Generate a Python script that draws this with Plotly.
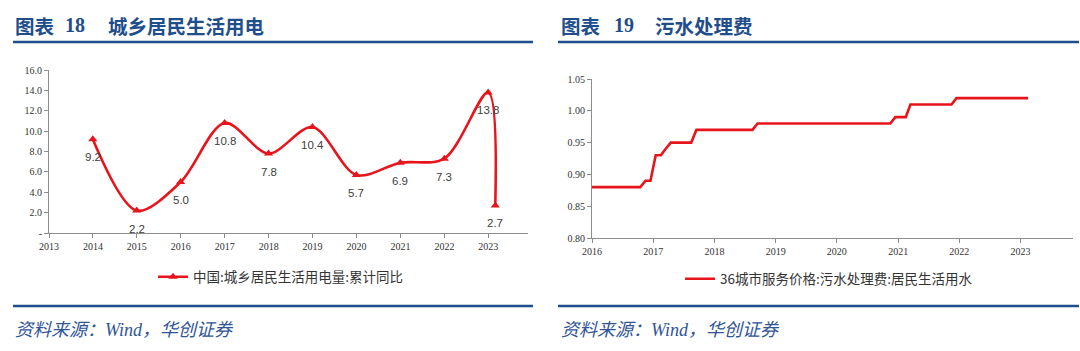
import plotly.graph_objects as go

# ---- Data: left chart (城乡居民生活用电量 累计同比, %) ----
elec_dates = ["2013-12-31", "2014-12-31", "2015-12-31", "2016-12-31", "2017-12-31",
              "2018-12-31", "2019-12-31", "2020-12-31", "2021-12-31", "2022-12-31", "2023-02-28"]
elec_values = [9.2, 2.2, 5.0, 10.8, 7.8, 10.4, 5.7, 6.9, 7.3, 13.8, 2.7]
elec_labels = ["9.2", "2.2", "5.0", "10.8", "7.8", "10.4", "5.7", "6.9", "7.3", "13.8", "2.7"]
elec_yticks = [0, 2, 4, 6, 8, 10, 12, 14, 16]
elec_yticklabels = ["-", "2.0", "4.0", "6.0", "8.0", "10.0", "12.0", "14.0", "16.0"]
elec_xticks = ["2013", "2014", "2015", "2016", "2017", "2018", "2019", "2020", "2021", "2022", "2023"]

# ---- Data: right chart (污水处理费 居民生活用水) ----
water_dates = ["2016-01-01", "2016-10-15", "2016-11-15", "2016-12-15", "2017-01-15", "2017-02-15",
               "2017-03-15", "2017-04-15", "2017-08-15", "2017-09-15", "2018-08-15", "2018-09-15",
               "2020-11-15", "2020-12-15", "2021-02-15", "2021-03-15", "2021-11-15", "2021-12-15",
               "2023-02-15"]
water_values = [0.88, 0.88, 0.89, 0.89, 0.93, 0.93, 0.94, 0.95, 0.95, 0.97, 0.97, 0.98,
                0.98, 0.99, 0.99, 1.01, 1.01, 1.02, 1.02]
water_yticks = [0.80, 0.85, 0.90, 0.95, 1.00, 1.05]
water_xticks = ["2016", "2017", "2018", "2019", "2020", "2021", "2022", "2023"]

# ---- Text ----
titles = [("图表", "18", "城乡居民生活用电"), ("图表", "19", "污水处理费")]
source_text = "资料来源：<span style='font-family:Liberation Serif'>Wind</span>，华创证券"

W, H = 1080, 351
RED = "#e8141b"
BLUE = "#1f4e8c"
AXIS = "#8c8c8c"
CJK = "Noto Sans CJK SC"
SERIF = "Liberation Serif, serif"


def px_x(x):
    return x / W


def px_y(y):
    return 1 - y / H


fig = go.Figure()

fig.add_trace(go.Scatter(
    x=elec_dates, y=elec_values, mode="lines+markers",
    line=dict(color=RED, width=2.6, shape="spline", smoothing=0.9),
    marker=dict(symbol="triangle-up", size=8, color=RED),
    name="中国:城乡居民生活用电量:累计同比", xaxis="x", yaxis="y", legend="legend",
))
fig.add_trace(go.Scatter(
    x=water_dates, y=water_values, mode="lines",
    line=dict(color=RED, width=2.6),
    name="36城市服务价格:污水处理费:居民生活用水", xaxis="x2", yaxis="y2", legend="legend2",
))

# data labels below the points
for d, v, lab in zip(elec_dates, elec_values, elec_labels):
    fig.add_annotation(
        x=d, y=v, xref="x", yref="y", text=lab, showarrow=False, yshift=-18,
        font=dict(family="Liberation Sans", size=11.5, color="#404040"),
    )

axis_common = dict(
    showgrid=False, zeroline=False, showline=True, linecolor=AXIS, linewidth=1,
    ticks="outside", ticklen=4, tickcolor=AXIS, automargin=False,
    tickfont=dict(family=SERIF, size=10, color="#333333"),
)

fig.update_layout(
    template="none",
    width=W, height=H,
    margin=dict(l=0, r=0, t=0, b=0, pad=0, autoexpand=False),
    paper_bgcolor="white", plot_bgcolor="white",
    xaxis=dict(
        domain=[px_x(49), px_x(528)], anchor="y", type="date",
        range=["2013-01-01", "2023-11-27"],
        tickvals=[f"{y}-01-01" for y in elec_xticks], ticktext=elec_xticks,
        **axis_common,
    ),
    yaxis=dict(
        domain=[px_y(233), px_y(70)], anchor="x", range=[0, 16],
        tickvals=elec_yticks, ticktext=elec_yticklabels,
        **axis_common,
    ),
    xaxis2=dict(
        domain=[px_x(592), px_x(1073)], anchor="y2", type="date",
        range=["2016-01-01", "2023-11-10"],
        tickvals=[f"{y}-01-01" for y in water_xticks], ticktext=water_xticks,
        **axis_common,
    ),
    yaxis2=dict(
        domain=[px_y(238), px_y(79)], anchor="x2", range=[0.80, 1.05],
        tickvals=water_yticks, tickformat=".2f",
        **axis_common,
    ),
    legend=dict(
        x=px_x(281), y=px_y(277), xanchor="center", yanchor="middle", orientation="h",
        font=dict(family=CJK, size=13.5, color="#333333"), bgcolor="rgba(0,0,0,0)",
    ),
    legend2=dict(
        x=px_x(829), y=px_y(279), xanchor="center", yanchor="middle", orientation="h",
        font=dict(family=CJK, size=13.5, color="#333333"), bgcolor="rgba(0,0,0,0)",
    ),
    showlegend=True,
)

# titles, rules and sources
title_x = [(13, 63, 106), (559, 612, 653)]
for (a, n, t), (xa, xn, xt) in zip(titles, title_x):
    fig.add_annotation(
        x=px_x(xa), y=px_y(25), xref="paper", yref="paper", xanchor="left", yanchor="middle",
        text=f"<b>{a}</b>", showarrow=False, font=dict(family=CJK, size=19.5, color=BLUE),
    )
    fig.add_annotation(
        x=px_x(xn), y=px_y(25), xref="paper", yref="paper", xanchor="left", yanchor="middle",
        text=f"<b>{n}</b>", showarrow=False, font=dict(family="Liberation Serif", size=20, color=BLUE),
    )
    fig.add_annotation(
        x=px_x(xt), y=px_y(25), xref="paper", yref="paper", xanchor="left", yanchor="middle",
        text=f"<b>{t}</b>", showarrow=False, font=dict(family=CJK, size=19.5, color=BLUE),
    )
    fig.add_annotation(
        x=px_x(xa), y=px_y(328), xref="paper", yref="paper", xanchor="left", yanchor="middle",
        text=f"<i>{source_text}</i>", showarrow=False,
        font=dict(family=CJK, size=18, color="#2f5597"),
    )

for x0, x1 in [(13, 533), (558, 1079)]:
    for yy in (42, 306):
        fig.add_shape(type="line", xref="paper", yref="paper",
                      x0=px_x(x0), x1=px_x(x1), y0=px_y(yy), y1=px_y(yy),
                      line=dict(color=BLUE, width=2.5))

fig.write_html("out.html",
               post_script="document.body.style.margin='0px';document.body.style.padding='0px';")
